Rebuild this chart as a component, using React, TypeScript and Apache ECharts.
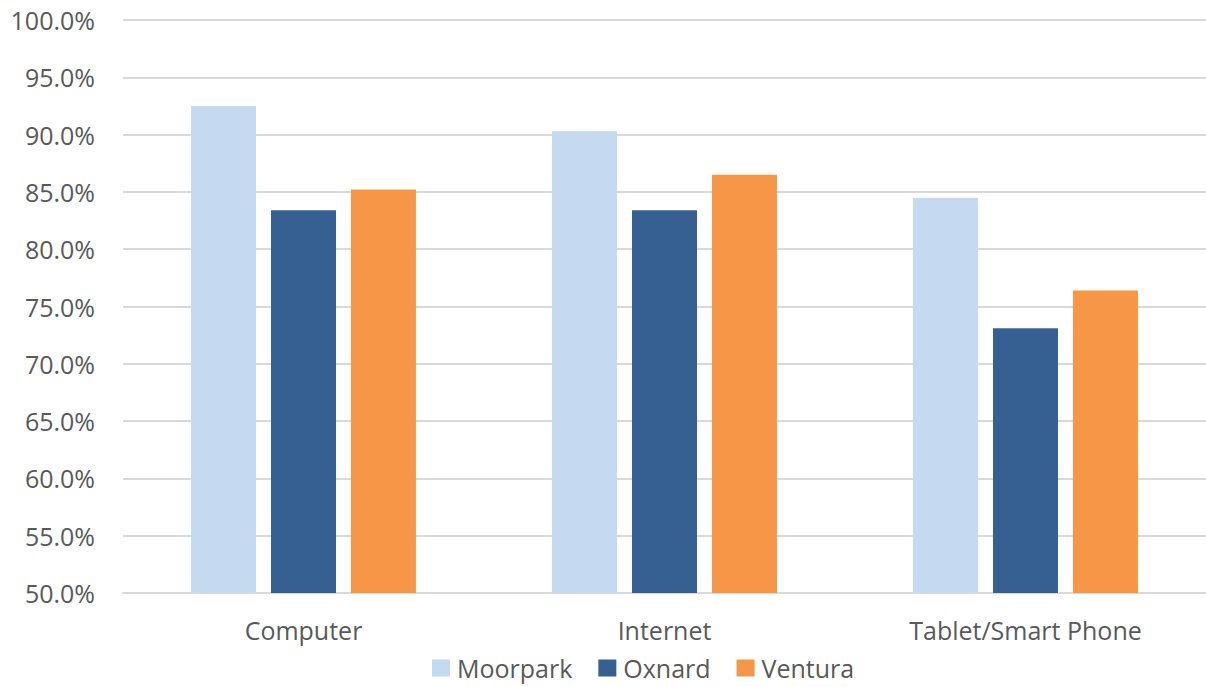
import React, { useEffect, useRef } from "react";
import * as echarts from "echarts";

const categories = ["Computer", "Internet", "Tablet/Smart Phone"];
const seriesNames = ["Moorpark", "Oxnard", "Ventura"];
const moorpark = [92.5, 90.3, 84.5];
const oxnard = [83.4, 83.4, 73.1];
const ventura = [85.2, 86.5, 76.4];
const colors = ["#C5D9F1", "#376092", "#F79646"];

const FONT = "'Open Sans', sans-serif";

export default function App() {
  const ref = useRef<HTMLDivElement>(null);
  useEffect(() => {
    if (!ref.current) return;
    const chart = echarts.init(ref.current, null, { renderer: "svg" });
    const values = [moorpark, oxnard, ventura];
    chart.setOption({
      animation: false,
      textStyle: { fontFamily: FONT },
      grid: { left: 123, top: 20, right: -9, bottom: 94, containLabel: false },
      legend: {
        left: 432,
        top: 655,
        padding: 0,
        itemWidth: 18,
        itemHeight: 17,
        itemGap: 26,
        icon: "rect",
        textStyle: {
          color: "#595959",
          fontSize: 25,
          lineHeight: 26,
          fontFamily: FONT,
          padding: [0, 0, 0, 2],
        },
        data: seriesNames,
      },
      xAxis: {
        type: "category",
        data: categories,
        axisTick: { show: false },
        axisLine: { show: true, lineStyle: { color: "#D9D9D9", width: 2 } },
        axisLabel: { color: "#595959", fontSize: 25, fontFamily: FONT, margin: 24 },
      },
      yAxis: {
        type: "value",
        min: 50,
        max: 100,
        interval: 5,
        axisLine: { show: false },
        axisTick: { show: false },
        splitLine: { lineStyle: { color: "#D9D9D9", width: 2 } },
        axisLabel: {
          color: "#595959",
          fontSize: 25,
          fontFamily: FONT,
          margin: 28,
          formatter: (v: number) => v.toFixed(1) + "%",
        },
      },
      series: seriesNames.map((name, i) => ({
        name,
        type: "bar",
        data: values[i],
        barWidth: 65,
        barGap: "23%",
        itemStyle: { color: colors[i] },
      })),
    });
    return () => chart.dispose();
  }, []);
  return (
    <div
      ref={ref}
      style={{ position: "fixed", left: 0, top: 0, width: 1206, height: 687, background: "#fff" }}
    />
  );
}
